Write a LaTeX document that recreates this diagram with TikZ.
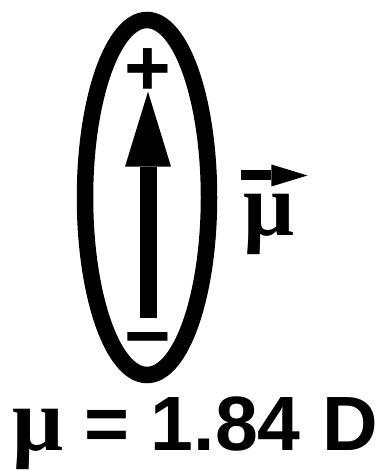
\documentclass[tikz,border=0pt]{standalone}
\usepackage{fontspec}
\setmainfont{Liberation Sans}
\newfontfamily\greekfont{Liberation Serif}
\usetikzlibrary{arrows.meta,positioning}
\tikzset{
  shell/.style={draw=black, line width=16.5pt},
  charge/.style={inner sep=0pt, font=\fontsize{80}{80}\selectfont\bfseries},
  moment/.style={-{Triangle[length=75pt,width=46pt,line width=0pt]}, line width=17pt},
  vecarrow/.style={-{Triangle[length=36pt,width=22pt,line width=0pt]}, line width=10pt},
  symbol/.style={inner sep=0pt, font=\fontsize{90}{90}\greekfont\bfseries}
}

\begin{document}
\begin{tikzpicture}[x=1pt,y=-1pt]
  \useasboundingbox (0,0) rectangle (385,470);
  % molecule outline
  \draw[shell] (147,197.5) ellipse [x radius=62, y radius=177.5];
  % charges and dipole arrow
  \node[charge] (plus) at (148,72) {+};
  \node[charge] (minus) at (148,348) {−};
  \draw[moment,shorten <=14pt,shorten >=-4pt] (minus.north) -- (plus.south);
  % vector label
  \node[symbol,anchor=base west] (muvec) at (243,235) {μ};
  \draw[vecarrow] ([xshift=-2pt,yshift=18pt]muvec.north west) -- ([xshift=13pt,yshift=18pt]muvec.north east);
  % value
  \node[inner sep=0pt,anchor=base west,font=\fontsize{77}{77}\selectfont\bfseries] (value) at (12,450)
    {{\greekfont\fontsize{90}{90}\selectfont μ} = 1.84 D};
\end{tikzpicture}
\end{document}
